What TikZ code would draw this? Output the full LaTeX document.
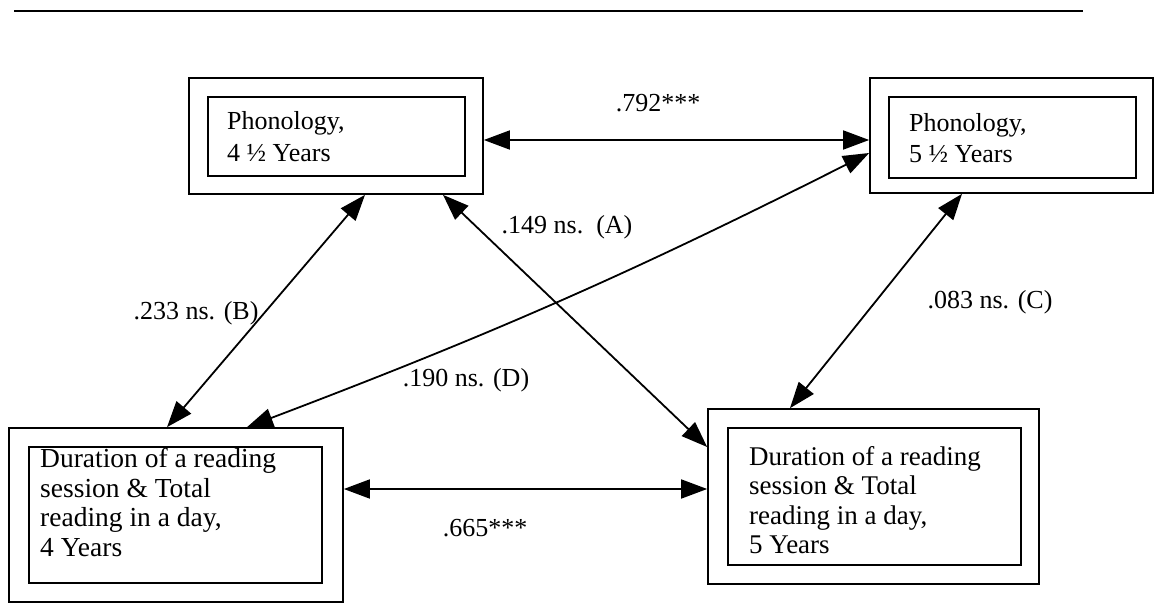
\documentclass[tikz,border=0pt]{standalone}
\usepackage{fontspec}
\setmainfont{Liberation Serif}
\usetikzlibrary{arrows.meta,calc}
\tikzset{
  outerbox/.style={draw, line width=1.7pt, inner sep=0pt},
  innerbox/.style={draw, line width=1.4pt, inner sep=0pt},
  boxtext/.style={anchor=north west, inner sep=0pt, align=left},
  lbl/.style={inner sep=0pt},
  link/.style={line width=1.8pt, {Triangle[length=26pt,width=19pt]}-{Triangle[length=26pt,width=19pt]}}
}
\begin{document}
\begin{tikzpicture}[x=1pt,y=-1pt,font=\fontsize{26}{30}\selectfont]
\useasboundingbox (0,0) rectangle (1154,604);
% top rule
\coordinate (L1) at (14,11);
\coordinate (L2) at (1083,11);
\draw[line width=2pt] (L1) -- (L2);
% boxes
\node[outerbox, minimum width=294pt, minimum height=116pt] (A) at (336,136) {};
\node[innerbox, minimum width=257pt, minimum height=79pt] (Ai) at (336.5,136.5) {};
\node[boxtext, font=\fontsize{26}{32}\selectfont] (At) at (227,111) {Phonology,\\4 ½ Years};

\node[outerbox, minimum width=283pt, minimum height=115pt] (B) at (1011.5,135.5) {};
\node[innerbox, minimum width=247pt, minimum height=81pt] (Bi) at (1012.5,137.5) {};
\node[boxtext, font=\fontsize{26}{31}\selectfont] (Bt) at (909,113) {Phonology,\\5 ½ Years};

\node[outerbox, minimum width=334pt, minimum height=174pt] (C) at (176,515) {};
\node[innerbox, minimum width=293pt, minimum height=136pt] (Ci) at (175.5,515) {};
\node[boxtext, font=\fontsize{27.5}{29.5}\selectfont] (Ct) at (40,448) {Duration of a reading\\session \& Total\\reading in a day,\\4 Years};

\node[outerbox, minimum width=331pt, minimum height=175pt] (D) at (873.5,496.5) {};
\node[innerbox, minimum width=293pt, minimum height=137pt] (Di) at (874.5,496.5) {};
\node[boxtext, font=\fontsize{27}{29.5}\selectfont] (Dt) at (749,446) {Duration of a reading\\session \& Total\\reading in a day,\\5 Years};

% connectors
\draw[link] ([yshift=-4pt]A.east) -- ([yshift=-4.5pt]B.west);
\draw[link] ([xshift=29pt]A.south) -- ([xshift=-9pt]C.north);
\draw[link] ([xshift=107pt]A.south) -- ([yshift=49.5pt]D.west);
\draw[link] ([xshift=71pt]C.north) to[bend right=3] ([yshift=-17.5pt]B.west);
\draw[link] ([xshift=-49.5pt]B.south) -- ([xshift=-83.5pt]D.north);
\draw[link] ([yshift=26pt]C.east) -- ([yshift=7.5pt]D.west);

% labels
\node[lbl] (l1) at (658,103) {.792***};
\node[lbl] (l2) at (196,313) {.233 ns. (B)};
\node[lbl] (l3) at (567,227) {.149 ns.\ \ (A)};
\node[lbl] (l4) at (466,380) {.190 ns. (D)};
\node[lbl] (l5) at (990,302) {.083 ns. (C)};
\node[lbl] (l6) at (485,528) {.665***};
\end{tikzpicture}
\end{document}
